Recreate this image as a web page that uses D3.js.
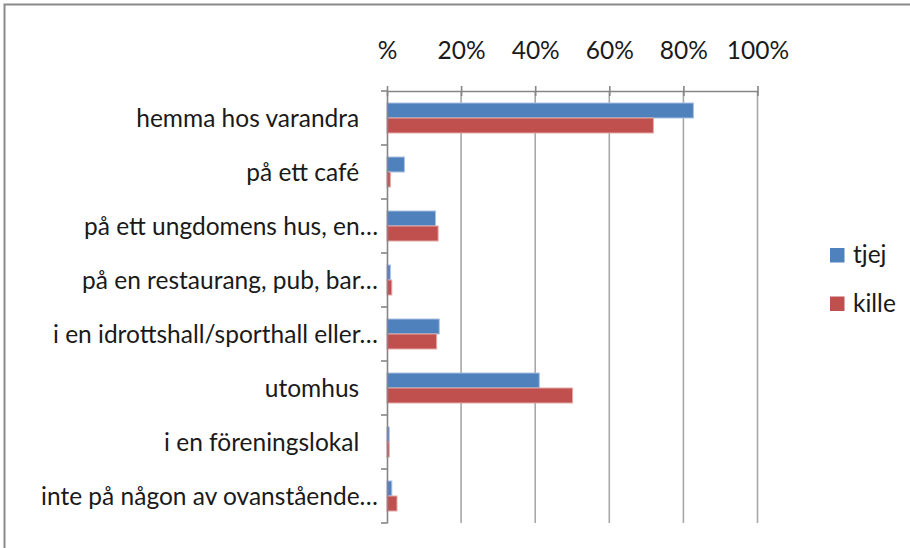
<!DOCTYPE html>
<html><head><meta charset="utf-8">
<script src="https://cdn.jsdelivr.net/npm/d3@7"></script>
<style>
html,body{margin:0;padding:0;background:#fff;}
svg{display:block;}
text{font-family:Lato,"Open Sans",sans-serif;fill:#1a1a1a;}
</style></head>
<body><svg id="c" width="910" height="548"></svg>
<script>
const categories = [
  "hemma hos varandra\u00a0\u00a0\u00a0",
  "på ett café\u00a0\u00a0\u00a0",
  "på ett ungdomens hus, en…",
  "på en restaurang, pub, bar…",
  "i en idrottshall/sporthall eller…",
  "utomhus\u00a0\u00a0\u00a0",
  "i en föreningslokal\u00a0\u00a0\u00a0",
  "inte på någon av ovanstående…"
];
const seriesNames = ["tjej", "kille"];
const tjej  = [0.827, 0.047, 0.131, 0.009, 0.141, 0.411, 0.006, 0.013];
const kille = [0.719, 0.009, 0.138, 0.013, 0.134, 0.501, 0.006, 0.027];
const tickValues = [0, 0.2, 0.4, 0.6, 0.8, 1.0];
const tickLabels = ["%", "20%", "40%", "60%", "80%", "100%"];
const colors = ["#4F81BD", "#C0504D"];
const strokes = ["#a9c2e2", "#e2aaa8"];

const svg = d3.select("#c");
// outer frame (top and left edges visible)
svg.append("path").attr("d","M4.5,548 L4.5,4.5 L910,4.5")
  .attr("fill","none").attr("stroke","#8a8a8a").attr("stroke-width",2);

const x = d3.scaleLinear().domain([0,1]).range([387, 757.5]);
const y = d3.scaleBand().domain(categories).range([91, 523]).padding(0);
const ys = d3.scaleBand().domain(seriesNames).range([0, y.bandwidth()]).paddingInner(0).paddingOuter(0.8);

// gridlines
svg.append("g").selectAll("line").data(tickValues.slice(1)).join("line")
  .attr("x1",d=>x(d)).attr("x2",d=>x(d)).attr("y1",91).attr("y2",523)
  .attr("stroke","#a8a8a8").attr("stroke-width",1.6);

// bars
const data = categories.map((c,i)=>({c, vals:[tjej[i], kille[i]]}));
const g = svg.append("g");
seriesNames.forEach((s,si)=>{
  g.selectAll("rect.s"+si).data(data).join("rect")
    .attr("class","s"+si)
    .attr("x", x(0)).attr("y", d=>y(d.c)+ys(s))
    .attr("width", d=>x(d.vals[si])-x(0)).attr("height", ys.bandwidth())
    .attr("fill", colors[si]).attr("stroke", strokes[si]).attr("stroke-width",1);
});

// top axis
const xAxis = d3.axisTop(x).tickValues(tickValues)
  .tickFormat((d,i)=>tickLabels[i]).tickSizeInner(5).tickSizeOuter(0).tickPadding(27);
const ax = svg.append("g").attr("transform","translate(0,91)").call(xAxis);
ax.select(".domain").attr("stroke","#868686").attr("stroke-width",1.6);
ax.selectAll(".tick line").attr("stroke","#868686").attr("stroke-width",1.6).attr("y1",5).attr("y2",-5);
ax.selectAll(".tick text").attr("font-size",24.5).attr("font-family","Lato").attr("fill","#1a1a1a");

// left axis
const yAxis = d3.axisLeft(y).tickSize(0).tickPadding(9);
const ay = svg.append("g").attr("transform","translate(387,0)").call(yAxis);
ay.select(".domain").attr("stroke","#868686").attr("stroke-width",1.6);
ay.selectAll(".tick text").attr("font-size",24.5).attr("font-family","Lato").attr("fill","#1a1a1a")
  .attr("dy","0.38em").style("white-space","pre");
// category boundary ticks
const bounds = categories.map(c=>y(c)).concat([y(categories[categories.length-1])+y.bandwidth()]);
ay.append("g").selectAll("line").data(bounds).join("line")
  .attr("x1",-6).attr("x2",0).attr("y1",d=>d).attr("y2",d=>d)
  .attr("stroke","#868686").attr("stroke-width",1.6);

// legend
const lg = svg.append("g");
seriesNames.forEach((s,i)=>{
  lg.append("rect").attr("x",830).attr("y",248+i*48.5).attr("width",14.5).attr("height",14.5)
    .attr("fill",colors[i]);
  lg.append("text").attr("x",853).attr("y",263+i*48.5).attr("font-size",24.5).text(s);
});
</script></body></html>
